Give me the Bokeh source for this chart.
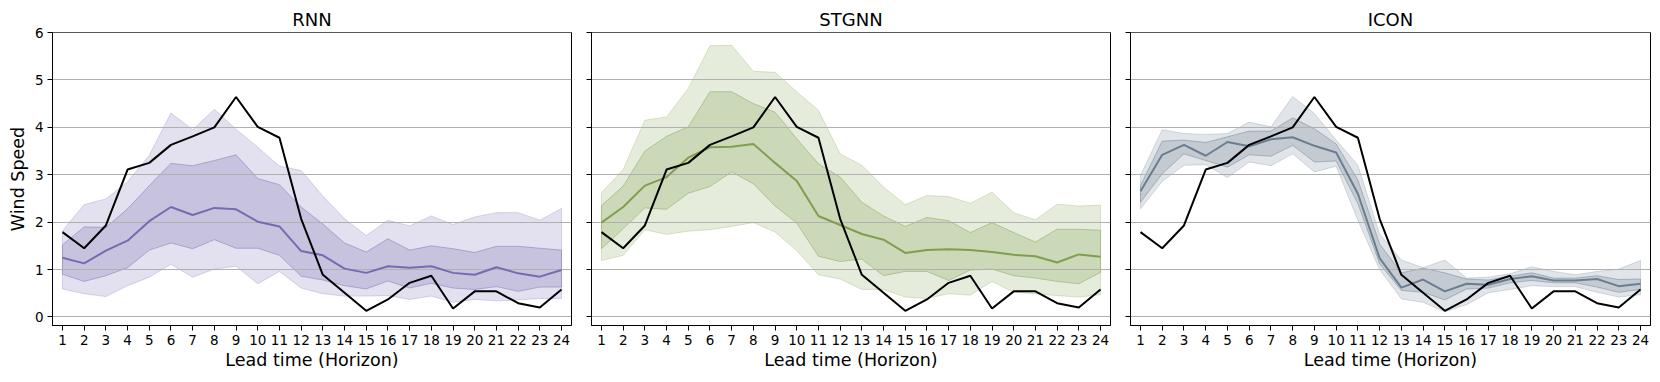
from bokeh.plotting import figure
from bokeh.layouts import row
from bokeh.models import Range1d, FixedTicker
from bokeh.embed import file_html
from bokeh.resources import INLINE

lead_time = list(range(1, 25))
y_ticks = [0, 1, 2, 3, 4, 5, 6]
panel_titles = ["RNN", "STGNN", "ICON"]

observed = [1.79, 1.45, 1.93, 3.11, 3.25, 3.63, 3.81, 4.00, 4.64, 4.01, 3.78, 2.07,
            0.89, 0.51, 0.13, 0.37, 0.72, 0.87, 0.18, 0.54, 0.54, 0.29, 0.20, 0.58]

rnn_median = [1.25, 1.13, 1.40, 1.61, 2.02, 2.32, 2.15, 2.30, 2.27, 2.01, 1.91, 1.39,
              1.30, 1.02, 0.93, 1.07, 1.04, 1.07, 0.93, 0.89, 1.05, 0.92, 0.85, 0.99]
rnn_inner_hi = [1.52, 1.90, 1.89, 2.28, 2.77, 3.24, 3.19, 3.30, 3.42, 2.92, 2.79, 2.32,
                1.96, 1.56, 1.37, 1.65, 1.41, 1.50, 1.44, 1.36, 1.49, 1.49, 1.45, 1.41]
rnn_inner_lo = [0.90, 0.75, 0.87, 1.04, 1.41, 1.56, 1.44, 1.63, 1.45, 1.45, 1.30, 0.86,
                0.78, 0.66, 0.59, 0.76, 0.61, 0.71, 0.61, 0.58, 0.64, 0.54, 0.63, 0.63]
rnn_outer_hi = [1.82, 2.37, 2.49, 2.85, 3.41, 4.30, 3.95, 4.38, 3.96, 3.58, 3.18, 3.09,
                2.55, 2.07, 1.72, 2.04, 1.92, 2.13, 1.95, 2.11, 2.20, 2.20, 2.04, 2.29]
rnn_outer_lo = [0.59, 0.49, 0.43, 0.66, 0.84, 1.11, 0.84, 1.01, 1.07, 0.70, 0.96, 0.61,
                0.49, 0.44, 0.44, 0.45, 0.37, 0.44, 0.31, 0.37, 0.34, 0.36, 0.39, 0.39]

stgnn_median = [1.99, 2.32, 2.77, 2.95, 3.36, 3.58, 3.59, 3.65, 3.25, 2.87, 2.13, 1.94,
                1.75, 1.63, 1.35, 1.41, 1.43, 1.41, 1.37, 1.31, 1.28, 1.15, 1.32, 1.27]
stgnn_inner_hi = [2.35, 2.76, 3.50, 3.81, 4.01, 4.75, 4.75, 4.50, 4.32, 3.76, 3.23, 2.95,
                  2.42, 2.13, 1.91, 2.10, 2.03, 1.78, 1.99, 1.78, 1.58, 1.85, 1.85, 1.83]
stgnn_inner_lo = [1.44, 1.86, 2.30, 2.27, 2.61, 2.75, 3.06, 2.81, 2.34, 1.98, 1.28, 1.17,
                  1.22, 0.87, 0.96, 0.96, 0.77, 0.99, 1.01, 0.87, 0.82, 0.75, 0.70, 0.94]
stgnn_outer_hi = [2.62, 3.11, 4.15, 4.22, 4.82, 5.72, 5.73, 5.18, 5.16, 4.75, 4.36, 3.44,
                  3.20, 2.74, 2.37, 2.56, 2.54, 2.40, 2.63, 2.20, 2.05, 2.38, 2.34, 2.36]
stgnn_outer_lo = [1.19, 1.30, 1.84, 1.74, 1.81, 1.84, 1.91, 1.99, 1.79, 1.40, 0.89, 0.80,
                  0.58, 0.58, 0.42, 0.39, 0.49, 0.46, 0.75, 0.52, 0.49, 0.45, 0.42, 0.47]

icon_median = [2.65, 3.42, 3.63, 3.40, 3.69, 3.60, 3.75, 3.79, 3.61, 3.47, 2.60, 1.24,
               0.62, 0.79, 0.54, 0.70, 0.68, 0.80, 0.86, 0.77, 0.77, 0.80, 0.65, 0.70]
icon_inner_hi = [2.77, 3.71, 3.73, 3.68, 3.80, 3.92, 3.92, 4.20, 3.97, 3.65, 2.89, 1.54,
                 0.93, 1.03, 0.93, 0.80, 0.78, 0.86, 0.93, 0.82, 0.82, 0.87, 0.79, 0.80]
icon_inner_lo = [2.42, 3.02, 3.44, 3.30, 3.16, 3.42, 3.39, 3.62, 3.27, 3.29, 2.39, 1.12,
                 0.56, 0.52, 0.36, 0.59, 0.61, 0.72, 0.77, 0.72, 0.72, 0.63, 0.52, 0.58]
icon_outer_hi = [2.99, 3.95, 3.87, 3.85, 3.87, 4.11, 4.01, 4.65, 4.29, 3.73, 3.20, 1.75,
                 1.20, 1.04, 1.20, 0.82, 0.84, 0.91, 1.06, 0.96, 0.89, 0.96, 1.01, 1.19]
icon_outer_lo = [2.28, 2.86, 3.20, 3.21, 2.94, 3.27, 3.19, 3.44, 3.06, 3.18, 2.04, 1.00,
                 0.38, 0.31, 0.11, 0.26, 0.51, 0.58, 0.66, 0.64, 0.64, 0.52, 0.42, 0.47]

panel_colors = ["#756bb1", "#809e50", "#6b7d90"]

panels = [
    (rnn_median, rnn_inner_lo, rnn_inner_hi, rnn_outer_lo, rnn_outer_hi),
    (stgnn_median, stgnn_inner_lo, stgnn_inner_hi, stgnn_outer_lo, stgnn_outer_hi),
    (icon_median, icon_inner_lo, icon_inner_hi, icon_outer_lo, icon_outer_hi),
]

FONT = "DejaVu Sans"
y_range = Range1d(-0.18, 6.0)

figs = []
for i, (title, color, data) in enumerate(zip(panel_titles, panel_colors, panels)):
    med, ilo, ihi, olo, ohi = data
    if i == 0:
        mbl, mbr, fw = 52, 1, 519
    elif i == 1:
        mbl, mbr, fw = 19, 1, 519
    else:
        mbl, mbr, fw = 19, 2, 520
    p = figure(frame_width=fw, frame_height=293,
               x_range=Range1d(0.54, 24.46), y_range=y_range,
               output_backend="svg", toolbar_location=None,
               min_border_left=mbl, min_border_right=mbr,
               min_border_top=32, min_border_bottom=44)
    p.title.text = title
    p.title.align = "center"
    p.title.text_font = FONT
    p.title.text_font_size = "18px"
    p.title.text_font_style = "normal"
    p.title.text_color = "black"
    p.title.standoff = 5
    p.outline_line_color = "black"
    p.outline_line_alpha = 1.0
    p.outline_line_width = 1
    p.xgrid.grid_line_color = None
    p.ygrid.grid_line_color = None

    for ax in (p.xaxis, p.yaxis):
        ax.axis_line_color = "black"
        ax.major_tick_line_color = "black"
        ax.major_tick_in = 0
        ax.major_tick_out = 5
        ax.minor_tick_line_color = None
        ax.major_label_text_font = FONT
        ax.major_label_text_font_size = "13.5px"
        ax.major_label_text_color = "black"
        ax.axis_label_text_font = FONT
        ax.axis_label_text_font_size = "17.5px"
        ax.axis_label_text_font_style = "normal"
        ax.axis_label_text_color = "black"
    p.xaxis.ticker = FixedTicker(ticks=lead_time)
    p.yaxis.ticker = FixedTicker(ticks=y_ticks)
    p.xaxis.axis_label = "Lead time (Horizon)"
    p.xaxis.axis_label_standoff = 2
    p.xaxis.major_label_standoff = 4
    if i == 0:
        p.yaxis.axis_label = "Wind Speed"
        p.yaxis.axis_label_standoff = 4
        p.yaxis.major_label_standoff = 4
    else:
        p.yaxis.major_label_overrides = {t: "" for t in y_ticks}
        p.yaxis.major_label_standoff = 0

    xs_band = lead_time + lead_time[::-1]
    p.patch(xs_band, ohi + olo[::-1], fill_color=color, fill_alpha=0.2,
            line_color=color, line_alpha=0.25, line_width=1)
    p.patch(xs_band, ihi + ilo[::-1], fill_color=color, fill_alpha=0.25,
            line_color=color, line_alpha=0.45, line_width=1)
    p.hspan(y=y_ticks, line_color="#b0b0b0", line_width=1)
    p.line(lead_time, med, line_color=color, line_width=2)
    p.line(lead_time, observed, line_color="black", line_width=2)
    figs.append(p)

layout = row(*figs)
open("out.html", "w").write(file_html(layout, INLINE))
